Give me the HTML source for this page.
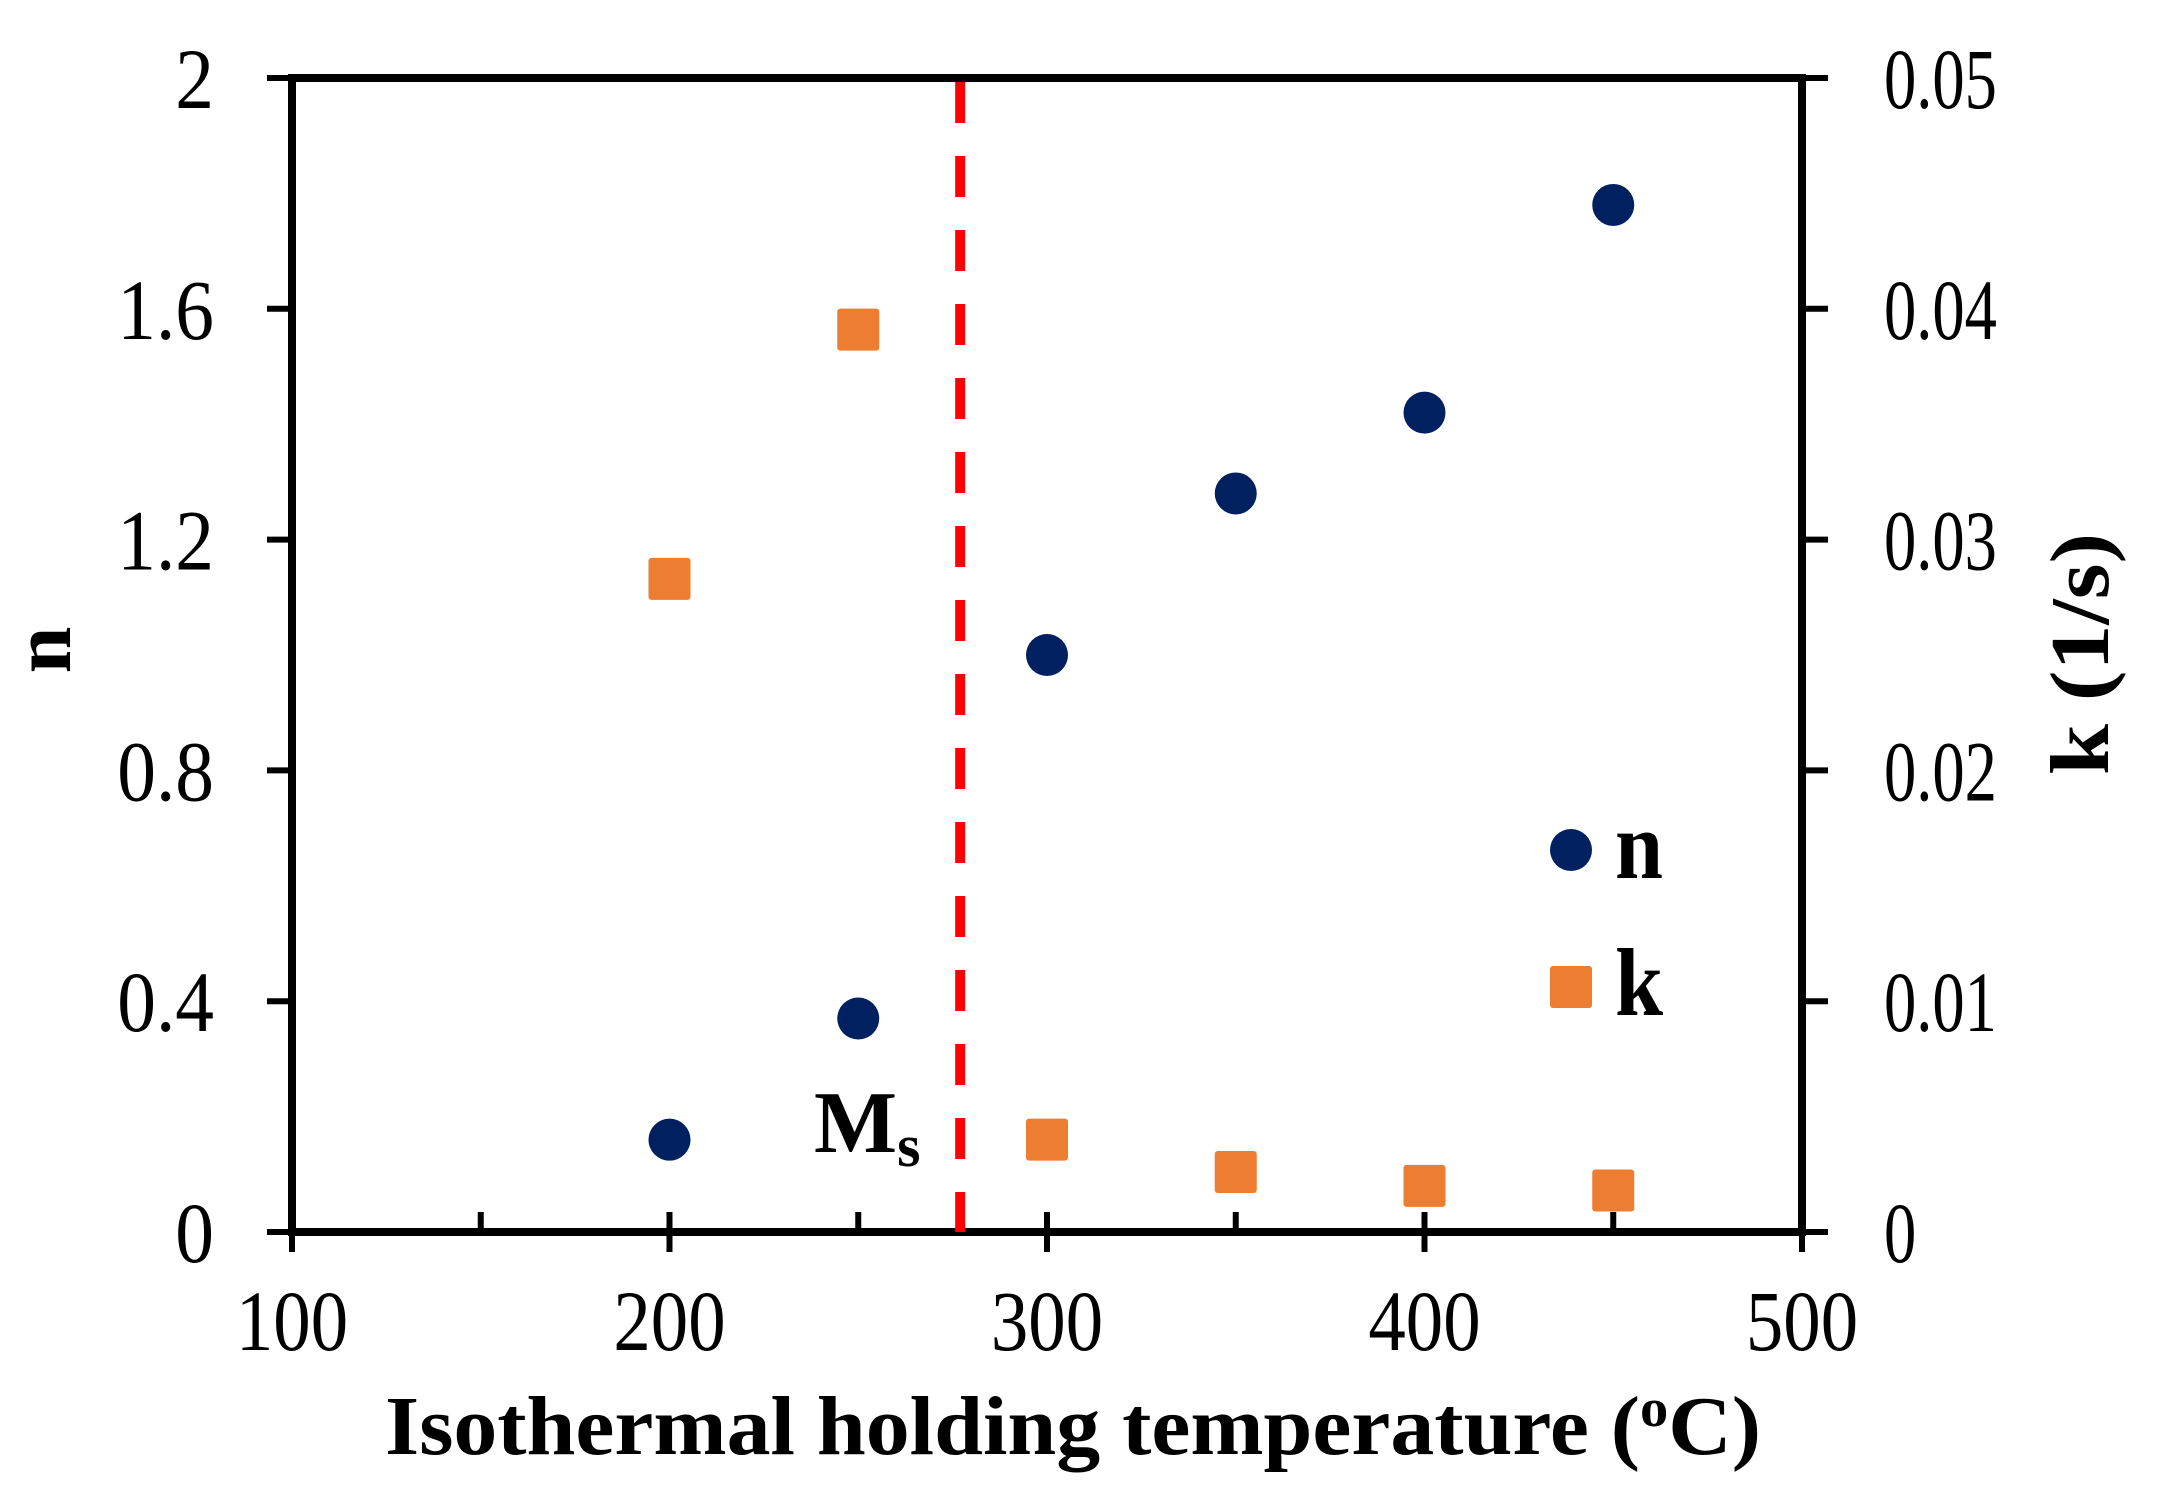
<!DOCTYPE html>
<html><head><meta charset="utf-8"><style>
html,body{margin:0;padding:0;background:#fff;}
svg{display:block;}
text{font-family:"Liberation Serif",serif;fill:#000;}
</style></head><body>
<svg id="chart" width="2161" height="1501" viewBox="0 0 2161 1501" xmlns="http://www.w3.org/2000/svg">
<g id="plot"></g>
</svg>
<script>
const temps = [200, 250, 300, 350, 400, 450];
const nValues = [0.16, 0.37, 1.0, 1.28, 1.42, 1.78];
const kValues = [0.0283, 0.0391, 0.0040, 0.0026, 0.0020, 0.0018];
const xTicks = ["100","200","300","400","500"];
const yTicks = ["0","0.4","0.8","1.2","1.6","2"];
const y2Ticks = ["0","0.01","0.02","0.03","0.04","0.05"];
const msTemp = 277;

const L=292, R=1802, T=78, B=1232;
const sx = v => L + (v-100)/400*(R-L);
const sy = v => B - v/2*(B-T);
const sy2 = v => B - v/0.05*(B-T);
const NS="http://www.w3.org/2000/svg";
const g=document.getElementById('plot');
function mk(tag, attrs, parent){const e=document.createElementNS(NS,tag);for(const k in attrs)e.setAttribute(k,attrs[k]);(parent||g).appendChild(e);return e;}
function txt(s,x,y,size,anchor,weight,sxs){const e=mk('text',{'font-size':size,'text-anchor':anchor,'font-weight':weight||'normal',transform:`translate(${x},${y}) scale(${sxs||0.82},1)`});e.textContent=s;return e;}

for(let v=100;v<=500;v+=50){
  const x=sx(v);const major=(v%100===0);
  const t=mk('line',{x1:x,x2:x,y1:B-20,y2:major?B+20:B,stroke:'#000','stroke-width':6});
  
  
}
xTicks.forEach(s=>{const e=txt(s,sx(+s),1350,86,'middle','normal',0.87);
  
  });
yTicks.forEach(s=>{const y=sy(+s);
  const t=mk('line',{x1:L-25,x2:L,y1:y,y2:y,stroke:'#000','stroke-width':6});
  
  
  const e=txt(s,214,y+30,86,'end','normal',0.9);
  
  });
y2Ticks.forEach(s=>{const y=sy2(+s);
  const t=mk('line',{x1:R,x2:R+26,y1:y,y2:y,stroke:'#000','stroke-width':6});
  
  
  const e=txt(s,1884,y+30,86,'start','normal',0.75);
  
  });

const fr=mk('rect',{x:L,y:T,width:R-L,height:B-T,fill:'none',stroke:'#000','stroke-width':8});



const ms=mk('line',{x1:sx(msTemp),x2:sx(msTemp),y1:T+4,y2:B,stroke:'#ff0000','stroke-width':10,'stroke-dasharray':'41 33'});


const mst=mk('text',{x:814,y:1152,'font-size':88,'font-weight':'bold'});


mst.innerHTML='M<tspan font-size="60" dy="14">s</tspan>';

temps.forEach((t,i)=>{
  const c=mk('circle',{cx:sx(t),cy:sy(nValues[i]),r:21,fill:'#002060'});
  
  
  const s=mk('rect',{x:sx(t)-21,y:sy2(kValues[i])-21,width:42,height:42,rx:3,fill:'#ed7d31'});
  
  
});

const lc=mk('circle',{cx:1571,cy:850,r:21,fill:'#002060'});


const ln=txt('n',1615,878,96,'start','bold',0.9);


const ls=mk('rect',{x:1550,y:966,width:42,height:42,rx:3,fill:'#ed7d31'});


const lk=txt('k',1615,1015,96,'start','bold',0.9);



const xt=mk('text',{x:385,y:1454,'font-size':84,'font-weight':'bold',textLength:1376,lengthAdjust:'spacingAndGlyphs'});


xt.innerHTML='Isothermal holding temperature (<tspan font-size="54" dy="-28">o</tspan><tspan dy="28">C)</tspan>';
const yt=mk('text',{'font-size':84,'font-weight':'bold','text-anchor':'middle',transform:'translate(70,650) rotate(-90)'});


yt.textContent='n';
const y2t=mk('text',{'font-size':84,'font-weight':'bold','text-anchor':'middle',transform:'translate(2108,654) rotate(-90)',textLength:242,lengthAdjust:'spacingAndGlyphs'});


y2t.textContent='k (1/s)';
</script>
</body></html>
